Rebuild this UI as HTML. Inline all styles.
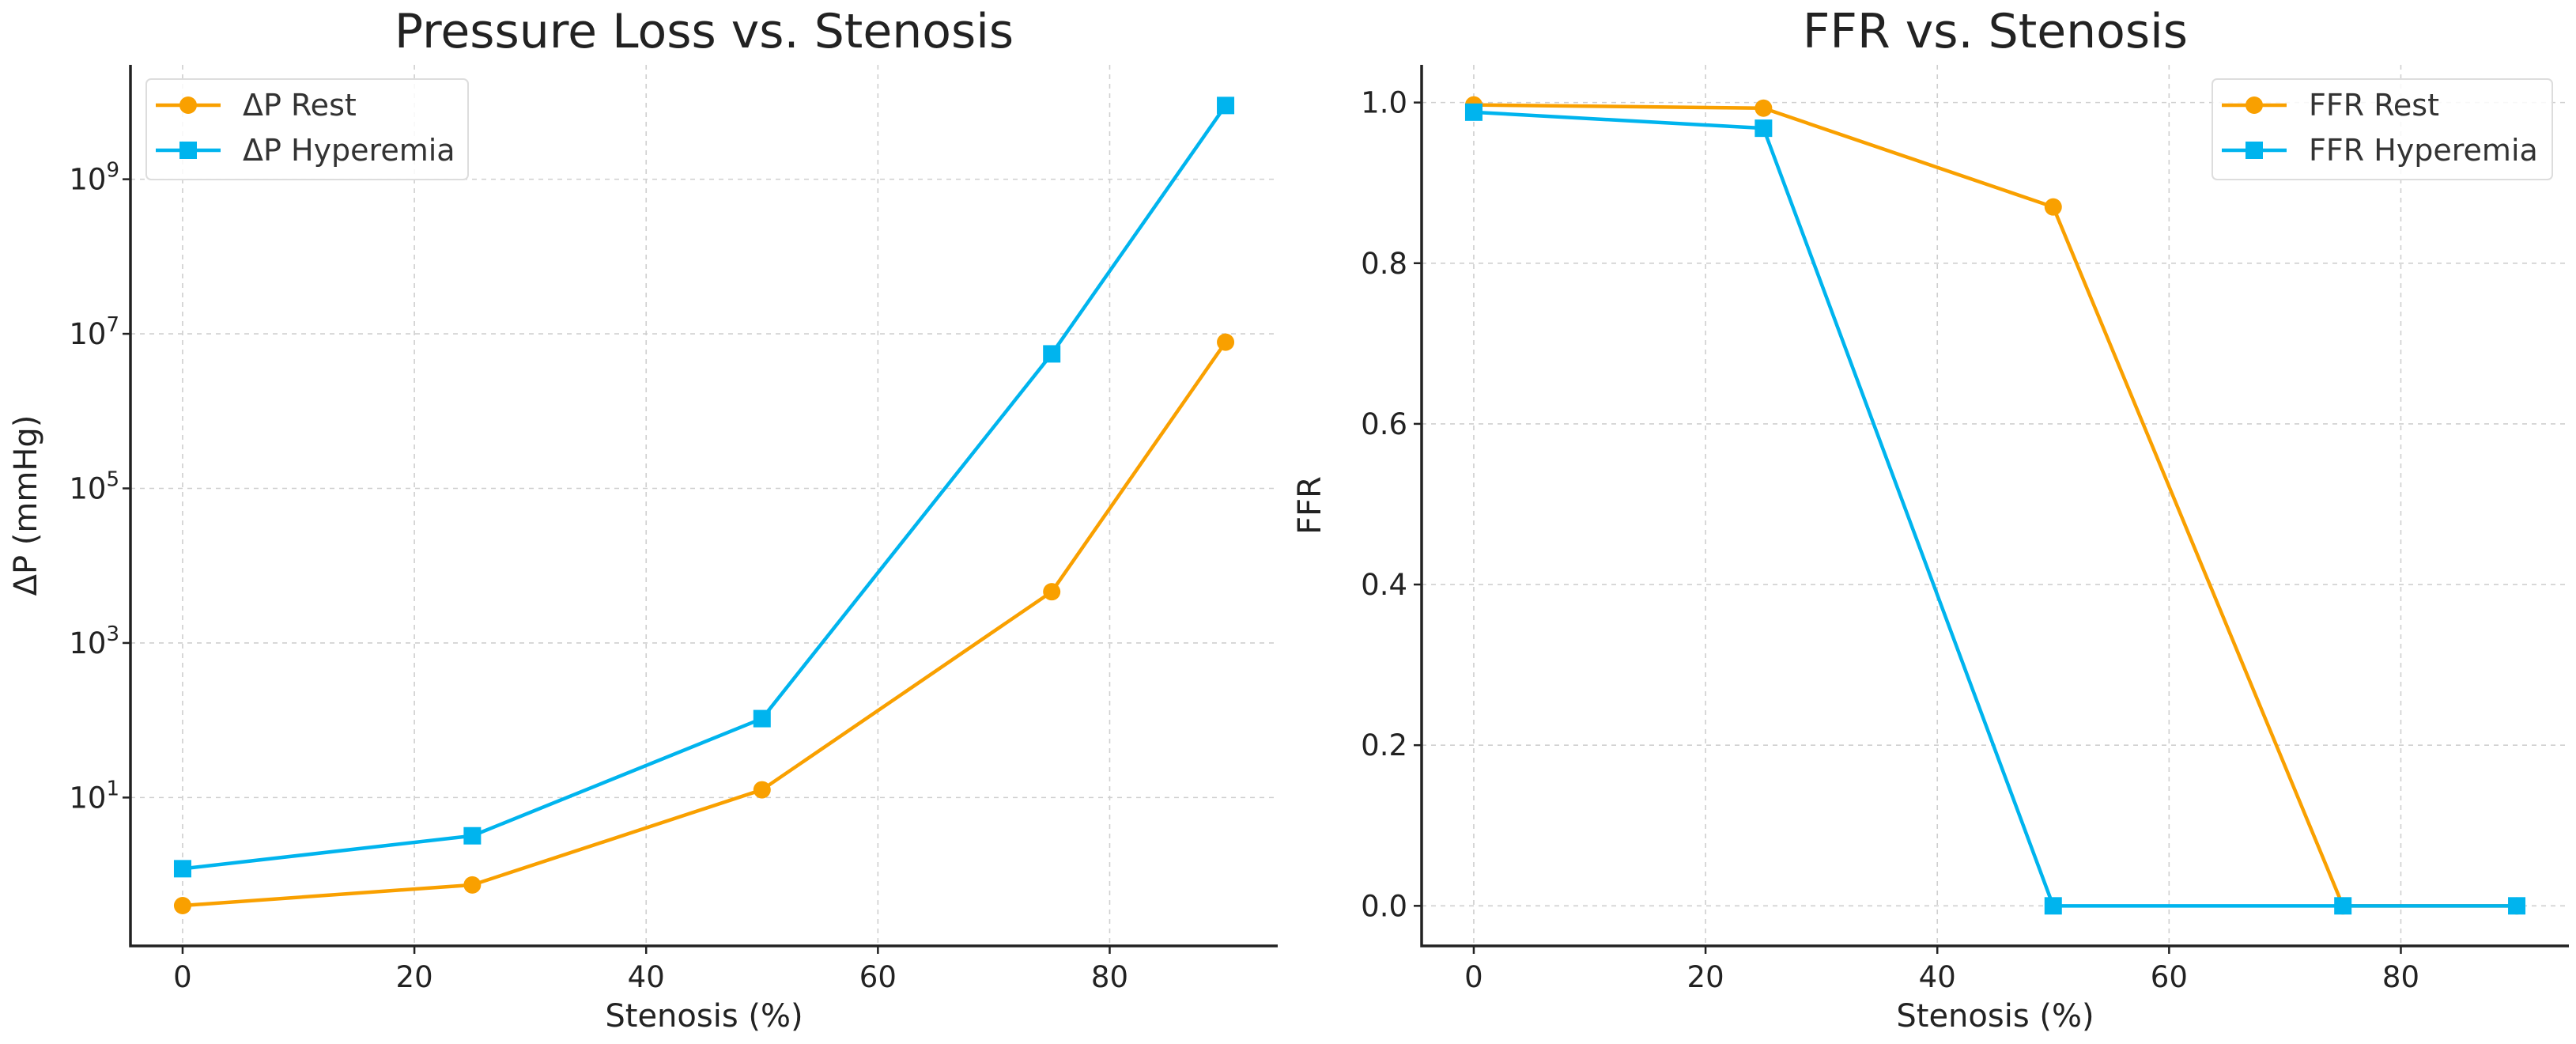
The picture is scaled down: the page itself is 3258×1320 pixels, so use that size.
<!DOCTYPE html>
<html><head><meta charset="utf-8"><style>
html,body{margin:0;padding:0;background:#fff;}
svg{display:block;font-family:"DejaVu Sans","Liberation Sans",sans-serif;}
</style></head><body>
<svg id="chart" width="3258" height="1320" viewBox="0 0 3258 1320" xmlns="http://www.w3.org/2000/svg"></svg>
<script>
const stenosis = [0, 25, 50, 75, 90];
const dpRest = [0.4, 0.74, 12.6, 4600, 7.8e6];
const dpHyper = [1.2, 3.2, 105, 5.5e6, 9e9];
const ffrRest = [0.997, 0.993, 0.87, 0, 0];
const ffrHyper = [0.988, 0.968, 0, 0, 0];
const xTicks = [0, 20, 40, 60, 80];
const logTicks = [1, 3, 5, 7, 9];
const ffrTicks = [0, 0.2, 0.4, 0.6, 0.8, 1.0];
const ffrTickLabels = ["0.0", "0.2", "0.4", "0.6", "0.8", "1.0"];

const NS = "http://www.w3.org/2000/svg";
const svg = document.getElementById("chart");
const ORANGE = "#F9A000", BLUE = "#00B4EE";
function mk(tag, attrs, parent) {
  const e = document.createElementNS(NS, tag);
  for (const k in attrs) e.setAttribute(k, attrs[k]);
  (parent || svg).appendChild(e);
  return e;
}
function txt(s, attrs, parent) { const t = mk("text", attrs, parent); t.textContent = s; return t; }

function panel(cfg) {
  const g = mk("g", {});
  
  
  const L = cfg.left, R = cfg.right, T = 82, B = 1196;
  const xmin = -4.5, xmax = 94.5;
  const sx = v => L + (v - xmin) / (xmax - xmin) * (R - L);
  const sy = v => B - (cfg.tf(v) - cfg.ymin) / (cfg.ymax - cfg.ymin) * (B - T);
  xTicks.forEach(t => {
    const l = mk("line", {x1: sx(t), x2: sx(t), y1: T, y2: B, stroke: "#cfcfcf", "stroke-width": 1.6, "stroke-dasharray": "6,6"}, g);
    
    
  });
  cfg.yTicks.forEach(t => {
    const l = mk("line", {x1: L, x2: R, y1: sy(t), y2: sy(t), stroke: "#cfcfcf", "stroke-width": 1.6, "stroke-dasharray": "6,6"}, g);
    
    
  });
  const ax = mk("path", {d: `M${L},${T} L${L},${B} L${R},${B}`, fill: "none", stroke: "#222", "stroke-width": 3.5}, g);
  
  
  xTicks.forEach(t => {
    mk("line", {x1: sx(t), x2: sx(t), y1: B, y2: B + 10, stroke: "#222", "stroke-width": 2.5}, g);
    const lb = txt(String(t), {x: sx(t), y: B + 52, "text-anchor": "middle", "font-size": 37, fill: "#222"}, g);
    
    
  });
  cfg.yTicks.forEach((t, i) => {
    mk("line", {x1: L - 10, x2: L, y1: sy(t), y2: sy(t), stroke: "#222", "stroke-width": 2.5}, g);
    const lb = txt("", {x: L - 18, y: sy(t) + 13, "text-anchor": "end", "font-size": 37, fill: "#222"}, g);
    
    
    if (cfg.log) {
      lb.appendChild(document.createTextNode("10"));
      const sp = mk("tspan", {dy: -16, "font-size": 26}, lb);
      sp.textContent = String(logTicks[i]);
      lb.setAttribute("x", L - 14);
    } else lb.textContent = cfg.yLabels[i];
  });
  const tt = txt(cfg.title, {x: (L + R) / 2, y: 60, "text-anchor": "middle", "font-size": 60, fill: "#222"}, g);
  
  
  const xl = txt("Stenosis (%)", {x: (L + R) / 2, y: 1298, "text-anchor": "middle", "font-size": 40, fill: "#222"}, g);
  
  
  const yx = cfg.log ? 46 : L - 128;
  const yl = txt(cfg.ylabel, {x: yx, y: (T + B) / 2, "text-anchor": "middle", "font-size": 40, fill: "#222", transform: `rotate(-90 ${yx} ${(T + B) / 2})`}, g);
  
  
  cfg.series.forEach(s => {
    const sg = mk("g", {}, g);
    
    
    const pts = stenosis.map((x, i) => sx(x) + "," + sy(s.data[i])).join(" ");
    mk("polyline", {points: pts, fill: "none", stroke: s.color, "stroke-width": 4.5, "stroke-linejoin": "round"}, sg);
    stenosis.forEach((x, i) => {
      let m;
      if (s.marker === "o") m = mk("circle", {cx: sx(x), cy: sy(s.data[i]), r: 11, fill: s.color}, sg);
      else m = mk("rect", {x: sx(x) - 11, y: sy(s.data[i]) - 11, width: 22, height: 22, fill: s.color}, sg);
      
      
    });
  });
  const lg = mk("g", {}, g);
  
  
  const lx = cfg.legX, ly = 100, lw = cfg.legW;
  mk("rect", {x: lx, y: ly, width: lw, height: 127, rx: 6, fill: "#fff", "fill-opacity": 0.85, stroke: "#ddd", "stroke-width": 2}, lg);
  cfg.series.forEach((s, i) => {
    const cy = ly + 33 + i * 57;
    const eg = mk("g", {}, lg);
    
    
    mk("line", {x1: lx + 12, x2: lx + 94, y1: cy, y2: cy, stroke: s.color, "stroke-width": 4.5}, eg);
    if (s.marker === "o") mk("circle", {cx: lx + 53, cy: cy, r: 11, fill: s.color}, eg);
    else mk("rect", {x: lx + 42, y: cy - 11, width: 22, height: 22, fill: s.color}, eg);
    txt(s.label, {x: lx + 122, y: cy + 13, "font-size": 38, fill: "#333"}, eg);
  });
}

panel({name: "pressure-loss-panel", left: 165, right: 1616, title: "Pressure Loss vs. Stenosis", ylabel: "ΔP (mmHg)",
  log: true, tf: v => Math.log10(v), ymin: -0.92, ymax: 10.48, yTicks: logTicks.map(p => Math.pow(10, p)),
  legX: 185, legW: 407,
  series: [{name: "dp-rest-series", label: "ΔP Rest", data: dpRest, color: ORANGE, marker: "o"},
           {name: "dp-hyperemia-series", label: "ΔP Hyperemia", data: dpHyper, color: BLUE, marker: "s"}]});

panel({name: "ffr-panel", left: 1798, right: 3249, title: "FFR vs. Stenosis", ylabel: "FFR",
  log: false, tf: v => v, ymin: -0.0499, ymax: 1.0469, yTicks: ffrTicks, yLabels: ffrTickLabels,
  legX: 2798, legW: 430,
  series: [{name: "ffr-rest-series", label: "FFR Rest", data: ffrRest, color: ORANGE, marker: "o"},
           {name: "ffr-hyperemia-series", label: "FFR Hyperemia", data: ffrHyper, color: BLUE, marker: "s"}]});
</script>
</body></html>
